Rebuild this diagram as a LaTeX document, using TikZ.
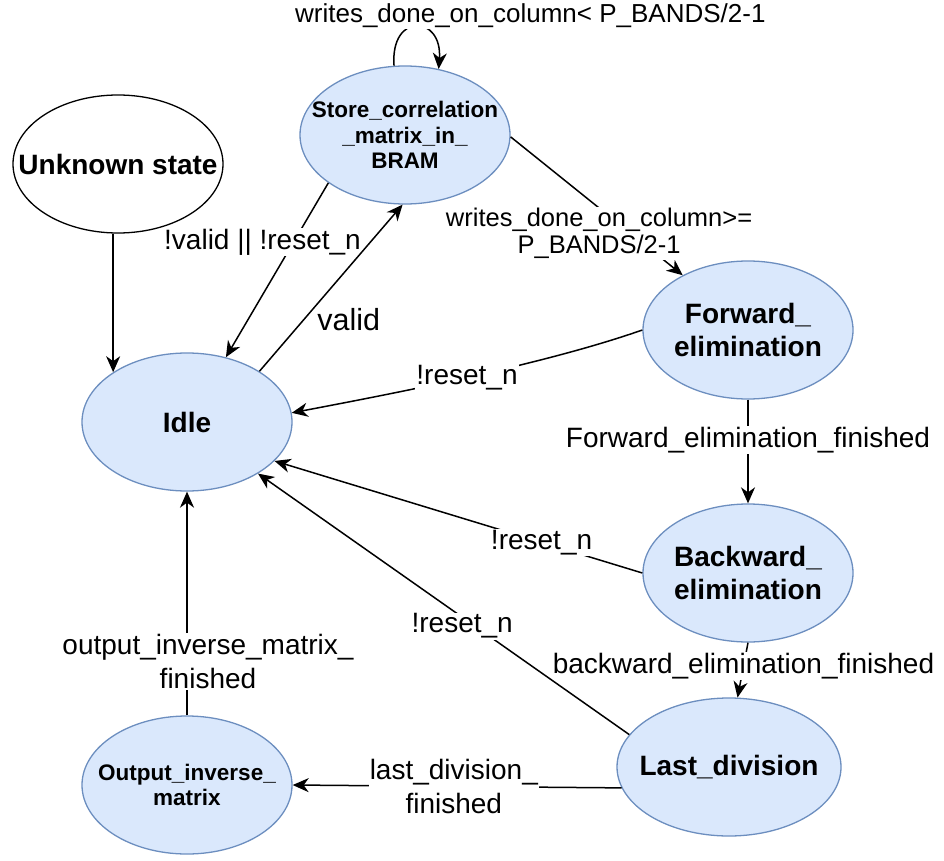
\documentclass[tikz,border=0pt]{standalone}
\usepackage{fontspec}
\setmainfont{Liberation Sans}
\usetikzlibrary{shapes.geometric,arrows.meta}
\definecolor{fsmfill}{HTML}{DAE8FC}
\definecolor{fsmline}{HTML}{6C8EBF}

\begin{document}
\begin{tikzpicture}[x=1pt, y=-1pt,
  state/.style={ellipse, draw=fsmline, fill=fsmfill, line width=1.3pt,
    minimum width=210pt, minimum height=138pt, inner sep=0pt},
  bigtxt/.style={font=\bfseries\fontsize{28}{33}\selectfont, align=center, inner sep=0pt},
  smalltxt/.style={font=\bfseries\fontsize{22.5}{25.5}\selectfont, align=center, inner sep=0pt},
  trans/.style={line width=1.5pt, -{Stealth[length=16pt, width=14pt, inset=5pt]}},
  cond/.style={fill=white, font=\fontsize{28}{34}\selectfont, align=center, inner sep=1pt}]
  \useasboundingbox (0,0) rectangle (944,861);

  \node[state, draw=black, fill=white, label={[bigtxt]center:Unknown state}] (unknown) at (118,164) {};
  \node[state, label={[smalltxt]center:Store\_correlation\\\_matrix\_in\_\\BRAM}] (store) at (405,135) {};
  \node[state, label={[bigtxt]center:Idle}] (idle) at (187,422) {};
  \node[state, label={[bigtxt]center:Forward\_\\elimination}] (forward) at (748,330) {};
  \node[state, label={[bigtxt]center:Backward\_\\elimination}] (backward) at (748,573) {};
  \node[state, minimum width=224pt, label={[bigtxt]center:Last\_division}] (lastdiv) at (729,767) {};
  \node[state, label={[smalltxt]center:Output\_inverse\_\\matrix}] (output) at (187,785) {};

  \draw[trans] (idle.146 |- unknown.south) -- (idle.146);
  \draw[trans] (store.212) -- node[cond, pos=0.34, xshift=-31pt] {!valid || !reset\_n} (idle.59);
  \draw[trans] (idle.35) -- node[cond, pos=0.31, xshift=45pt, font=\fontsize{30.5}{36}\selectfont] {valid} (store.268);
  \draw[trans] (store.99) .. controls +(-4,-54) and +(4,-54) ..
    node[cond, pos=0.5, xshift=114pt, yshift=11pt, font=\fontsize{26}{31}\selectfont] {writes\_done\_on\_column< P\_BANDS/2-1} (store.63);
  \draw[trans] (store.-1) -- node[cond, pos=0.7, xshift=-32pt, font=\fontsize{25.5}{27}\selectfont] {writes\_done\_on\_column>=\\P\_BANDS/2-1} (forward.140);
  \draw[trans] (forward.180) .. controls +(-100,35) and +(100,-19) .. node[cond, pos=0.5] {!reset\_n} (idle.5);
  \draw[trans] (forward.south) -- node[cond, pos=0.39] {Forward\_elimination\_finished} (backward.north);
  \draw[trans] (backward.180) -- node[cond, pos=0.274] {!reset\_n} (idle.-24);
  \draw[trans] (backward.south) -- node[cond, pos=0.43] {backward\_elimination\_finished} (lastdiv.83);
  \draw[trans] (lastdiv.162) -- node[cond, pos=0.45, yshift=-9pt] {!reset\_n} (idle.-36);
  \draw[trans] (lastdiv.191) -- node[cond, pos=0.51] {last\_division\_\\finished} (output.east);
  \draw[trans] (output.north) -- node[cond, pos=0.24, xshift=21pt] {output\_inverse\_matrix\_\\finished} (idle.south);
\end{tikzpicture}
\end{document}
